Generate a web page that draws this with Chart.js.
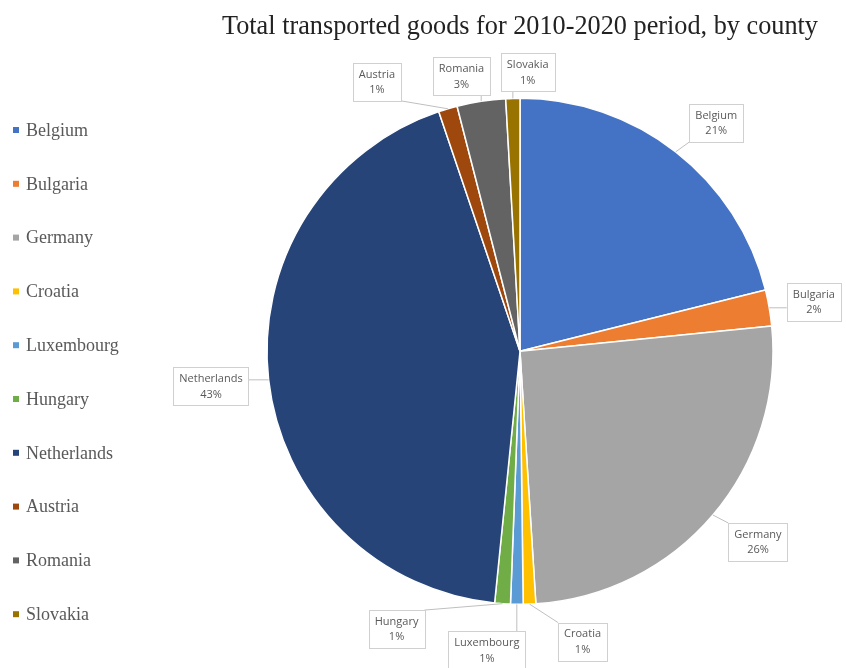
<!DOCTYPE html>
<html>
<head>
<meta charset="utf-8">
<script src="https://cdn.jsdelivr.net/npm/chart.js@4.4.1/dist/chart.umd.min.js"></script>
<style>
  html, body { margin: 0; padding: 0; background: #fff; }
  #wrap { width: 846px; height: 668px; }
</style>
</head>
<body>
<div id="wrap"><canvas id="pie" width="846" height="668"></canvas></div>
<script>
// data (share of total, %)
const countries = ['Belgium', 'Bulgaria', 'Germany', 'Croatia', 'Luxembourg', 'Hungary', 'Netherlands', 'Austria', 'Romania', 'Slovakia'];
const shares = [21.1, 2.3, 25.6, 0.8, 0.8, 1.0, 43.2, 1.2, 3.1, 0.9];
const colors = ['#4472C4', '#ED7D31', '#A5A5A5', '#FFC000', '#5B9BD5', '#70AD47', '#264478', '#9E480E', '#636363', '#997300'];

// where the callouts sit: turn from the slice middle (deg) and distance from the centre (px)
const labelTurn = [2.7, 0.4, -1.6, -10, 5.6, 20, 0, -11.4, -3.2, 3.2];
const labelGap = [301, 298, 305, 297, 301, 304, 311, 305, 281, 279];

const total = shares.reduce((a, b) => a + b, 0);

// callout boxes with leader lines
const callouts = {
  id: 'callouts',
  afterDatasetsDraw(chart) {
    const c = chart.ctx;
    const arcs = chart.getDatasetMeta(0).data;
    c.save();
    c.font = '11px "Open Sans"';
    c.textAlign = 'center';
    c.textBaseline = 'middle';
    arcs.forEach((arc, i) => {
      const mid = (arc.startAngle + arc.endAngle) / 2;
      const a = mid + labelTurn[i] * Math.PI / 180;
      const cx = arc.x + Math.cos(a) * labelGap[i];
      const cy = arc.y + Math.sin(a) * labelGap[i];
      const l1 = countries[i];
      const l2 = Math.round(shares[i] / total * 100) + '%';
      const w = Math.max(c.measureText(l1).width, c.measureText(l2).width) + 12;
      const h = 38;
      const bx = cx - w / 2, by = cy - h / 2;

      // leader line from the slice edge to the nearest point of the box
      const px = arc.x + Math.cos(mid) * arc.outerRadius;
      const py = arc.y + Math.sin(mid) * arc.outerRadius;
      const qx = Math.min(Math.max(px, bx), bx + w);
      const qy = Math.min(Math.max(py, by), by + h);
      if (Math.hypot(qx - px, qy - py) > 4) {
        c.strokeStyle = '#BFBFBF';
        c.lineWidth = 1;
        c.beginPath();
        c.moveTo(px, py);
        c.lineTo(qx, qy);
        c.stroke();
      }

      c.fillStyle = '#fff';
      c.fillRect(bx, by, w, h);
      c.strokeStyle = '#D0D0D0';
      c.lineWidth = 1;
      c.strokeRect(Math.round(bx) + 0.5, Math.round(by) + 0.5, Math.round(w), h);
      c.fillStyle = '#595959';
      c.fillText(l1, cx, cy - 7.5);
      c.fillText(l2, cx, cy + 8);
    });
    c.restore();
  }
};

// legend down the left side
const sideLegend = {
  id: 'sideLegend',
  afterDraw(chart) {
    const c = chart.ctx;
    c.save();
    c.font = '18px "Liberation Serif"';
    c.textBaseline = 'middle';
    countries.forEach((name, i) => {
      const y = 130 + i * 53.8;
      c.fillStyle = colors[i];
      c.fillRect(13, y - 3, 6, 6);
      c.fillStyle = '#595959';
      c.fillText(name, 26, y + 1);
    });
    c.restore();
  }
};

new Chart(document.getElementById('pie'), {
  type: 'pie',
  data: {
    labels: countries,
    datasets: [{
      data: shares,
      backgroundColor: colors,
      borderColor: '#fff',
      borderWidth: 1.5,
      radius: 253
    }]
  },
  options: {
    responsive: false,
    animation: false,
    layout: { padding: { left: 222, right: 28, top: 0, bottom: 11 } },
    plugins: {
      legend: { display: false },
      tooltip: { enabled: false },
      title: {
        display: true,
        text: 'Total transported goods for 2010-2020 period, by county',
        color: '#222',
        font: { family: '"Liberation Serif"', size: 26.3, weight: 'normal' },
        padding: { top: 11, bottom: 3 }
      }
    }
  },
  plugins: [callouts, sideLegend]
});
</script>
</body>
</html>
